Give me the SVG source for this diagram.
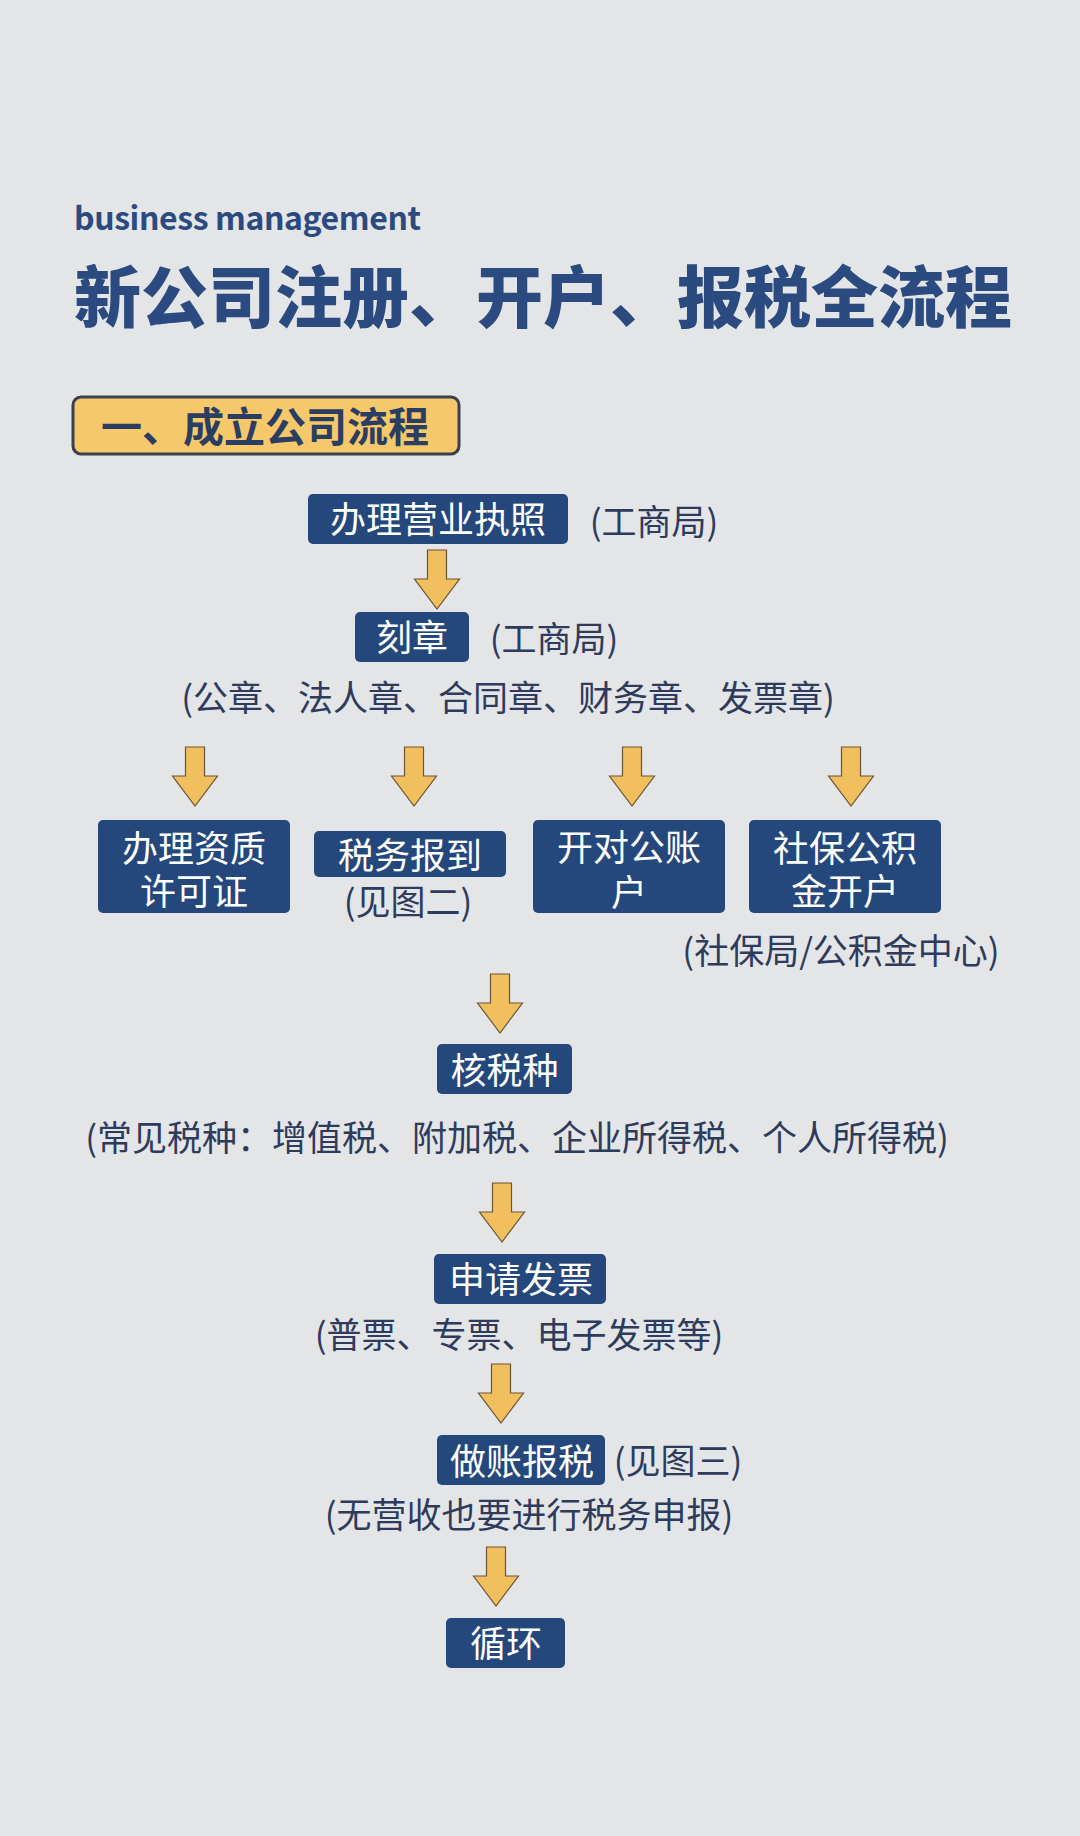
<svg xmlns="http://www.w3.org/2000/svg" width="1080" height="1836" viewBox="0 0 1080 1836">
<style>
text{font-family:"Noto Sans CJK SC","Noto Sans",sans-serif}
.box{fill:#24477c}
.bt{fill:#ffffff;font-size:36px;text-anchor:middle}
.an{fill:#2e3b5c;font-size:35px;text-anchor:middle}
.arr{fill:#f2bf5e;stroke:#6a5634;stroke-width:1.2}
</style>
<defs>
<path id="arrow" class="arr" d="M-9.5,0 H9.5 V29 H22.5 L0,59 L-22.5,29 H-9.5 Z"/>
</defs>
<rect x="0" y="0" width="1080" height="1836" fill="#e4e5e7"/>

<g id="header">
<text x="74" y="230" font-size="32" font-weight="700" fill="#2b4a80" textLength="347" lengthAdjust="spacing">business management</text>
<text x="74" y="322" font-size="67" font-weight="900" fill="#2b4a80" textLength="938" lengthAdjust="spacing">新公司注册、开户、报税全流程</text>
</g>

<g id="section1">
<rect x="73" y="397" width="386" height="57" rx="8" fill="#f5c86b" stroke="#3a404c" stroke-width="3"/>
<text x="265" y="442" font-size="41" font-weight="700" fill="#2c3d62" text-anchor="middle">一、成立公司流程</text>
</g>

<g id="connectors">
<use href="#arrow" transform="translate(437,550)"/>
<use href="#arrow" transform="translate(195,747)"/>
<use href="#arrow" transform="translate(414,747)"/>
<use href="#arrow" transform="translate(632,747)"/>
<use href="#arrow" transform="translate(851,747)"/>
<use href="#arrow" transform="translate(500,974)"/>
<use href="#arrow" transform="translate(502,1183)"/>
<use href="#arrow" transform="translate(501,1364)"/>
<use href="#arrow" transform="translate(496,1547)"/>
</g>

<g id="n-license">
<rect class="box" x="308" y="494" width="260" height="50" rx="5"/>
<text class="bt" x="438" y="533">办理营业执照</text>
<text class="an" x="654" y="535">(工商局)</text>
</g>

<g id="n-seal">
<rect class="box" x="355" y="612" width="114" height="50" rx="5"/>
<text class="bt" x="412" y="651">刻章</text>
<text class="an" x="554" y="652">(工商局)</text>
<text class="an" x="508" y="711">(公章、法人章、合同章、财务章、发票章)</text>
</g>

<g id="n-permit">
<rect class="box" x="98" y="820" width="192" height="93" rx="5"/>
<text class="bt" x="194" y="862">办理资质<tspan x="194" dy="43">许可证</tspan></text>
</g>

<g id="n-taxreg">
<rect class="box" x="314" y="831" width="192" height="46" rx="5"/>
<text class="bt" x="410" y="869">税务报到</text>
<text class="an" x="408" y="915">(见图二)</text>
</g>

<g id="n-bank">
<rect class="box" x="533" y="820" width="192" height="93" rx="5"/>
<text class="bt" x="629" y="861">开对公账<tspan x="629" dy="45">户</tspan></text>
</g>

<g id="n-social">
<rect class="box" x="749" y="820" width="192" height="93" rx="5"/>
<text class="bt" x="845" y="862">社保公积<tspan x="845" dy="43">金开户</tspan></text>
<text class="an" x="841" y="964">(社保局/公积金中心)</text>
</g>

<g id="n-taxtype">
<rect class="box" x="437" y="1044" width="135" height="50" rx="5"/>
<text class="bt" x="504.5" y="1084">核税种</text>
<text class="an" x="517" y="1151" font-size="34">(常见税种：增值税、附加税、企业所得税、个人所得税)</text>
</g>

<g id="n-invoice">
<rect class="box" x="434" y="1254" width="172" height="50" rx="5"/>
<text class="bt" x="521" y="1293">申请发票</text>
<text class="an" x="519" y="1348">(普票、专票、电子发票等)</text>
</g>

<g id="n-bookkeeping">
<rect class="box" x="437" y="1435" width="168" height="50" rx="5"/>
<text class="bt" x="522" y="1475">做账报税</text>
<text class="an" x="678" y="1474">(见图三)</text>
<text class="an" x="529" y="1528">(无营收也要进行税务申报)</text>
</g>

<g id="n-loop">
<rect class="box" x="446" y="1618" width="119" height="50" rx="5"/>
<text class="bt" x="506" y="1657">循环</text>
</g>
</svg>
